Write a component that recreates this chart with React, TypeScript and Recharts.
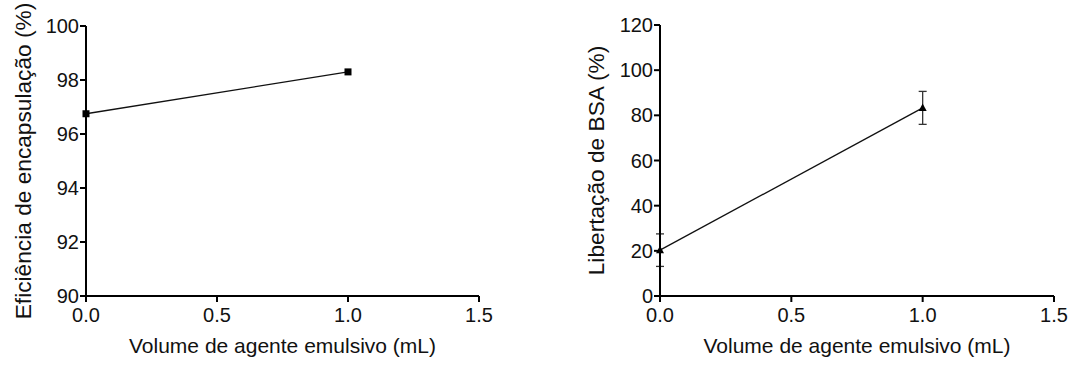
import { LineChart, Line, XAxis, YAxis, ErrorBar } from 'recharts';

// volume of emulsifying agent (mL)
const volumes = [0, 1.0];
// encapsulation efficiency (%)
const efficiency = [96.75, 98.3];
// BSA release (%) and its error
const release = [20.3, 83.3];
const releaseErr = [7.2, 7.3];

const xTicks = [0, 0.5, 1.0, 1.5];
const effTicks = [90, 92, 94, 96, 98, 100];
const relTicks = [0, 20, 40, 60, 80, 100, 120];

const xTitle = 'Volume de agente emulsivo (mL)';
const effTitle = 'Eficiência de encapsulação (%)';
const relTitle = 'Libertação de BSA (%)';

const effData = volumes.map((v, i) => ({ v, y: efficiency[i] }));
const relData = volumes.map((v, i) => ({ v, y: release[i], err: releaseErr[i] }));

const FONT = '"Liberation Sans", Arial, sans-serif';
const INK = '#111';
const tickStyle = { fill: INK, fontSize: 20, fontFamily: FONT };
const titleStyle = { fill: INK, fontSize: 21, fontFamily: FONT, textAnchor: 'middle' as const };
const yTitleStyle = { ...titleStyle, fontSize: 22.7 };
const axisLine = { stroke: '#000', strokeWidth: 2 };

const Square = (props: any) => {
  const { cx, cy, index } = props;
  if (cx == null || cy == null) return <g key={index} />;
  return <rect key={index} x={cx - 3.5} y={cy - 3.5} width={7} height={7} fill="#000" />;
};

const Triangle = (props: any) => {
  const { cx, cy, index } = props;
  if (cx == null || cy == null) return <g key={index} />;
  return <path key={index} d={`M${cx},${cy - 4.5} L${cx + 4},${cy + 3} L${cx - 4},${cy + 3} Z`} fill="#000" />;
};

const xAxisProps = {
  dataKey: 'v',
  type: 'number' as const,
  domain: [0, 1.5],
  ticks: xTicks,
  interval: 0,
  height: 60,
  tickSize: 6,
  tickMargin: 6,
  axisLine,
  tickLine: axisLine,
  tick: tickStyle,
  tickFormatter: (t: number) => t.toFixed(1),
  label: { value: xTitle, position: 'insideBottom' as const, offset: 3, style: titleStyle },
};

const App = () => {
  return (
    <div style={{ position: 'absolute', left: 0, top: 0, width: 1088, height: 365, display: 'flex', background: '#fff' }}>
      <LineChart width={544} height={365} data={effData} margin={{ top: 26, right: 65, left: 0, bottom: 9 }}>
        <XAxis {...xAxisProps} />
        <YAxis
          type="number"
          domain={[90, 100]}
          ticks={effTicks}
          interval={0}
          width={86}
          tickSize={6}
          tickMargin={1}
          axisLine={axisLine}
          tickLine={axisLine}
          tick={tickStyle}
          label={{ value: effTitle, angle: -90, position: 'insideLeft', offset: 23, style: yTitleStyle }}
        />
        <Line dataKey="y" stroke="#111" strokeWidth={1.3} dot={Square} isAnimationActive={false} />
      </LineChart>
      <LineChart width={544} height={365} data={relData} margin={{ top: 25, right: 34, left: 30, bottom: 9 }}>
        <XAxis {...xAxisProps} />
        <YAxis
          type="number"
          domain={[0, 120]}
          ticks={relTicks}
          interval={0}
          width={86}
          tickSize={6}
          tickMargin={1}
          axisLine={axisLine}
          tickLine={axisLine}
          tick={tickStyle}
          label={{ value: relTitle, angle: -90, position: 'insideLeft', offset: 22, style: yTitleStyle }}
        />
        <Line dataKey="y" stroke="#111" strokeWidth={1.3} dot={Triangle} isAnimationActive={false}>
          <ErrorBar dataKey="err" direction="y" width={4} stroke="#333" strokeWidth={1.3} />
        </Line>
      </LineChart>
    </div>
  );
};

export default App;
